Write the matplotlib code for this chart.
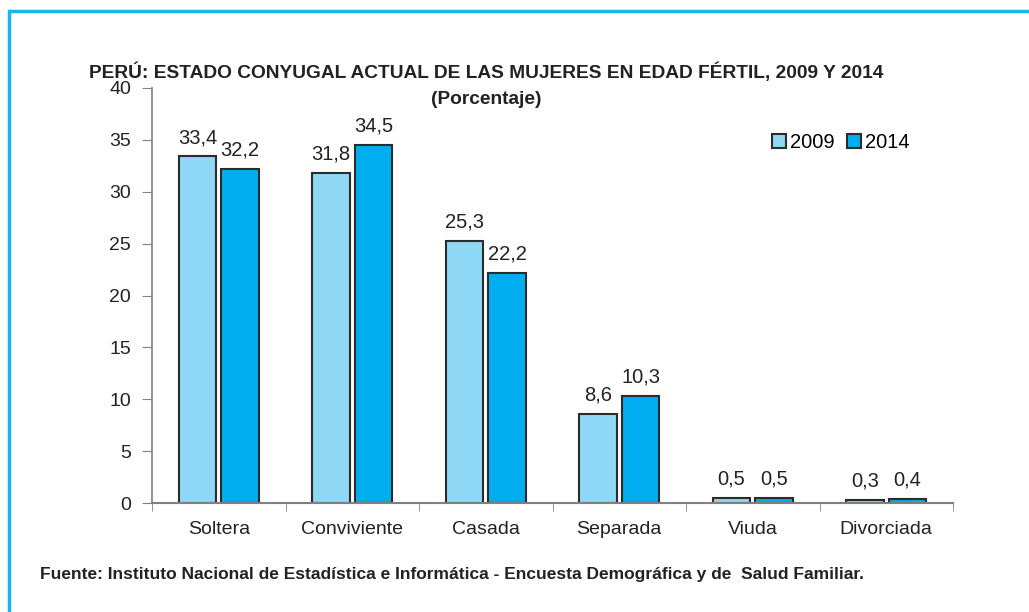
import matplotlib
matplotlib.use('Agg')
import matplotlib.pyplot as plt
import numpy as np
from matplotlib.patches import Rectangle

plt.rcParams['font.family'] = ['Liberation Sans Narrow', 'Liberation Sans', 'DejaVu Sans']

categorias = ['Soltera', 'Conviviente', 'Casada', 'Separada', 'Viuda', 'Divorciada']
v2009 = [33.4, 31.8, 25.3, 8.6, 0.5, 0.3]
v2014 = [32.2, 34.5, 22.2, 10.3, 0.5, 0.4]
etiquetas2009 = ['33,4', '31,8', '25,3', '8,6', '0,5', '0,3']
etiquetas2014 = ['32,2', '34,5', '22,2', '10,3', '0,5', '0,4']

c2009 = '#8fd8f6'
c2014 = '#00aeef'
borde = '#2b2b2b'
gris = '#808080'
texto = '#222222'

fig = plt.figure(figsize=(10.29, 6.12), dpi=100)
ax = fig.add_axes([152/1029, 1-503/612, (953-152)/1029, (503-88)/612])

x = np.arange(len(categorias))
w = 0.28
gap = 0.02
ax.bar(x - w/2 - gap, v2009, w, color=c2009, edgecolor=borde, linewidth=1.5, label='2009')
ax.bar(x + w/2 + gap, v2014, w, color=c2014, edgecolor=borde, linewidth=1.5, label='2014')

for i in range(len(categorias)):
    ax.text(x[i] - w/2 - gap, v2009[i] + 0.9, etiquetas2009[i], ha='center', va='bottom', fontsize=14.5, color=texto)
    ax.text(x[i] + w/2 + gap, v2014[i] + 0.9, etiquetas2014[i], ha='center', va='bottom', fontsize=14.5, color=texto)

ax.set_xlim(-0.5, len(categorias) - 0.5)
ax.set_ylim(0, 40)
ax.set_yticks(range(0, 41, 5))
ax.tick_params(axis='y', labelsize=14, length=7, color=gris, labelcolor=texto, pad=8)
ax.set_xticks(x)
ax.set_xticklabels(categorias, fontsize=14, color=texto)
ax.tick_params(axis='x', length=0, pad=13)
ax.set_xticks(np.arange(-0.5, len(categorias)), minor=True)
ax.tick_params(axis='x', which='minor', length=6, color=gris)

for s in ['top', 'right']:
    ax.spines[s].set_visible(False)
ax.spines['left'].set_color(gris)
ax.spines['bottom'].set_color(gris)
ax.spines['left'].set_linewidth(1.2)
ax.spines['bottom'].set_linewidth(1.5)

ax.legend(loc='upper right', bbox_to_anchor=(0.963, 0.925), ncol=2, frameon=False, fontsize=14.5,
          handlelength=0.7, handleheight=0.7, handletextpad=0.2, columnspacing=0.6, borderpad=0.2)

fig.text(486/1029, 1-72/612, 'PERÚ: ESTADO CONYUGAL ACTUAL DE LAS MUJERES EN EDAD FÉRTIL, 2009 Y 2014',
         ha='center', va='center', fontsize=13.8, fontweight='bold', color=texto)
fig.text(486/1029, 1-99/612, '(Porcentaje)', ha='center', va='center', fontsize=13.8, fontweight='bold', color=texto)
fig.text(40/1029, 1-574/612, 'Fuente: Instituto Nacional de Estadística e Informática - Encuesta Demográfica y de  Salud Familiar.',
         ha='left', va='center', fontsize=12.5, fontweight='bold', color=texto)

# marco azul
fig.add_artist(Rectangle((9/1029, -0.1), 1.2, 1 - 11/612 + 0.1, transform=fig.transFigure,
                         fill=False, edgecolor='#19b4ec', linewidth=2.5))

fig.savefig('out.png', dpi=100)
